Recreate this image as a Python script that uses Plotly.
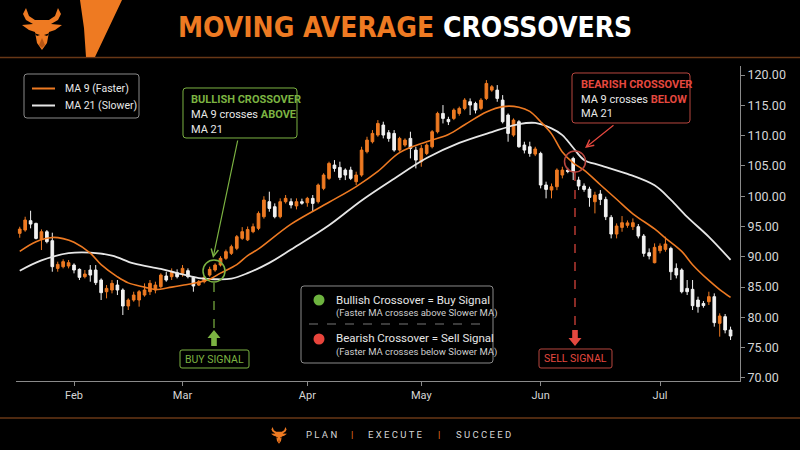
import plotly.graph_objects as go
import pandas as pd

# ---------------- data ----------------
dates = pd.bdate_range("2022-01-18", "2022-07-20")  # trading days shown

open_ = [93.87, 94.42, 95.96, 95.52, 92.88, 94.14, 92.66, 88.09, 88.37, 88.48,
         88.64, 87.93, 86.72, 87.82, 87.82, 86.17, 84.24, 84.52, 85.34, 84.52,
         81.88, 82.87, 82.87, 83.69, 84.24, 84.52, 85.07, 86.83, 86.72, 87.38,
         87.27, 87.71, 86.61, 85.34, 85.89, 86.99, 87.82, 88.65, 89.75, 90.57,
         91.40, 93.05, 92.80, 94.15, 94.70, 96.62, 99.10, 98.27, 96.62, 99.10,
         99.10, 98.40, 99.10, 98.93, 99.65, 99.10, 101.30, 102.95, 105.15, 104.76,
         104.32, 104.32, 102.40, 103.50, 107.35, 109.00, 110.10, 111.75, 110.48, 110.37,
         107.62, 108.45, 109.55, 107.62, 105.70, 107.07, 108.17, 110.65, 113.67, 112.68,
         112.85, 113.67, 114.50, 115.60, 115.32, 114.50, 116.15, 117.52, 117.52, 115.87,
         113.40, 110.10, 112.30, 108.45, 108.17, 106.96, 107.07, 101.85, 101.02, 101.57,
         103.50, 104.30, 106.24, 102.67, 101.68, 101.18, 99.09, 100.36, 99.48, 96.51,
         93.76, 94.86, 95.20, 94.97, 94.97, 93.43, 90.68, 89.03, 91.01, 91.23,
         91.39, 88.09, 87.82, 84.79, 84.63, 82.87, 82.30, 82.59, 83.42, 79.02,
         80.12, 77.92]
high = [94.97, 96.62, 97.61, 95.63, 94.53, 94.42, 93.98, 89.20, 89.58, 89.47,
        88.92, 88.09, 87.82, 88.64, 88.64, 86.44, 85.34, 86.17, 86.17, 84.79,
        83.14, 84.24, 84.52, 85.62, 86.17, 85.89, 87.27, 87.54, 88.09, 87.93,
        88.64, 88.09, 86.83, 86.17, 86.83, 88.37, 88.92, 90.10, 91.20, 92.00,
        93.60, 94.90, 95.00, 95.50, 97.50, 100.00, 100.75, 98.82, 99.65, 100.20,
        99.65, 99.65, 99.60, 99.90, 100.20, 102.10, 103.80, 105.70, 105.97, 105.70,
        104.60, 104.87, 104.05, 108.17, 109.82, 110.92, 112.57, 112.30, 110.92, 110.92,
        109.82, 109.55, 110.65, 108.17, 108.45, 108.72, 110.92, 113.95, 115.05, 113.12,
        114.50, 114.80, 116.20, 116.15, 115.60, 116.20, 119.17, 118.35, 118.35, 116.70,
        113.67, 112.85, 112.57, 109.00, 109.00, 108.17, 107.35, 102.40, 102.10, 104.60,
        104.87, 104.70, 106.52, 103.22, 102.12, 101.57, 100.74, 101.02, 99.92, 96.89,
        95.52, 96.73, 96.00, 96.34, 95.41, 93.76, 91.39, 92.22, 92.22, 93.32,
        91.67, 88.92, 88.09, 86.17, 86.17, 83.42, 82.70, 84.24, 83.97, 80.67,
        80.56, 78.47]
low = [93.15, 94.14, 94.70, 92.88, 91.12, 92.22, 87.54, 87.54, 88.09, 88.09,
       87.27, 86.17, 86.44, 85.89, 85.34, 82.87, 83.14, 83.97, 83.69, 80.39,
       81.22, 82.59, 81.77, 83.42, 83.69, 83.97, 84.79, 85.89, 86.17, 86.44,
       86.72, 86.44, 84.24, 85.18, 85.62, 86.72, 87.54, 88.40, 89.50, 90.30,
       91.10, 92.80, 92.60, 93.90, 94.40, 96.30, 97.45, 96.35, 96.35, 98.80,
       98.00, 97.83, 98.60, 98.27, 97.45, 98.80, 101.00, 102.70, 104.05, 102.67,
       102.67, 102.67, 101.85, 103.22, 107.07, 108.72, 109.82, 109.55, 109.00, 107.35,
       107.35, 108.17, 106.25, 104.60, 104.87, 106.80, 107.90, 110.37, 112.02, 111.75,
       112.57, 113.30, 114.20, 113.40, 113.67, 114.20, 115.87, 117.25, 115.60, 112.02,
       109.00, 109.82, 108.00, 107.07, 106.52, 106.63, 101.30, 99.65, 99.65, 101.00,
       102.95, 103.80, 102.67, 101.02, 100.74, 98.27, 97.17, 98.54, 96.07, 93.04,
       93.04, 94.14, 94.80, 94.42, 93.04, 90.02, 89.58, 88.92, 90.57, 90.84,
       86.17, 86.44, 83.97, 83.69, 81.22, 80.78, 81.60, 82.04, 78.47, 76.82,
       77.37, 76.27]
close = [94.58, 96.07, 95.41, 93.04, 94.14, 92.50, 88.37, 88.75, 89.20, 89.03,
         87.82, 86.61, 87.16, 86.99, 85.73, 84.08, 84.79, 85.62, 84.52, 81.88,
         82.87, 83.69, 84.24, 84.52, 85.62, 85.34, 86.99, 86.17, 87.54, 86.72,
         88.09, 86.72, 85.18, 85.89, 86.61, 87.93, 88.64, 89.75, 90.85, 91.67,
         93.32, 94.15, 94.50, 94.97, 97.17, 99.37, 97.99, 96.62, 99.10, 99.65,
         98.55, 99.10, 98.85, 99.65, 98.82, 101.85, 103.50, 105.42, 104.60, 103.11,
         103.50, 102.95, 103.50, 107.62, 109.27, 110.37, 112.02, 110.10, 109.55, 107.62,
         109.55, 109.27, 107.90, 105.97, 107.90, 108.45, 110.65, 113.67, 112.85, 112.30,
         114.22, 114.50, 115.87, 115.05, 114.22, 115.87, 118.62, 118.07, 116.15, 112.30,
         110.37, 112.57, 108.17, 107.62, 107.07, 107.80, 101.85, 101.13, 101.57, 104.32,
         104.32, 104.10, 104.04, 101.68, 101.13, 99.81, 100.19, 99.48, 96.62, 93.76,
         95.08, 95.63, 95.60, 95.63, 93.43, 90.57, 90.13, 91.56, 91.78, 92.11,
         87.54, 86.99, 84.24, 84.24, 81.93, 81.77, 81.95, 83.42, 79.13, 80.23,
         77.92, 76.93]

ma9_dates = ["2022-01-18", "2022-01-21", "2022-01-26", "2022-01-28", "2022-02-01", "2022-02-04",
             "2022-02-08", "2022-02-11", "2022-02-15", "2022-02-18", "2022-02-22", "2022-02-25",
             "2022-03-01", "2022-03-04", "2022-03-08", "2022-03-10", "2022-03-15", "2022-03-17",
             "2022-03-21", "2022-03-29", "2022-04-07", "2022-04-14", "2022-04-20", "2022-04-26",
             "2022-05-03", "2022-05-09", "2022-05-12", "2022-05-18", "2022-05-23", "2022-05-26",
             "2022-05-30", "2022-06-01", "2022-06-03", "2022-06-07", "2022-06-09", "2022-06-13",
             "2022-06-16", "2022-06-21", "2022-06-24", "2022-06-30", "2022-07-04", "2022-07-07",
             "2022-07-11", "2022-07-14", "2022-07-18", "2022-07-20"]
ma9 = [90.9, 92.5, 93.2, 93.0, 92.4, 90.6, 88.7, 86.7, 85.7, 85.0, 84.6, 85.0,
       85.3, 85.8, 86.3, 87.3, 88.7, 90.2, 91.3, 95.4, 99.0, 101.6, 104.1, 107.2,
       109.0, 110.2, 111.8, 113.9, 114.8, 114.7, 114.0, 112.3, 110.3, 107.3, 105.5, 104.3,
       101.9, 99.5, 97.1, 94.6, 93.1, 90.9, 88.7, 86.1, 84.6, 83.3]

ma21_dates = ["2022-01-18", "2022-01-24", "2022-01-31", "2022-02-04", "2022-02-10", "2022-02-16",
              "2022-02-23", "2022-02-28", "2022-03-04", "2022-03-09", "2022-03-14", "2022-03-17",
              "2022-03-23", "2022-03-29", "2022-04-07", "2022-04-15", "2022-04-25", "2022-05-03",
              "2022-05-11", "2022-05-19", "2022-05-26", "2022-05-31", "2022-06-03", "2022-06-07",
              "2022-06-09", "2022-06-13", "2022-06-16", "2022-06-23", "2022-06-30", "2022-07-05",
              "2022-07-08", "2022-07-14", "2022-07-20"]
ma21 = [87.7, 89.4, 90.6, 90.7, 90.2, 88.9, 88.0, 87.3, 86.5, 86.3, 86.4, 87.3,
        89.0, 91.2, 95.2, 99.3, 102.9, 106.3, 108.8, 110.6, 111.9, 112.1, 111.2, 110.1,
        108.0, 106.0, 105.1, 103.7, 101.8, 99.4, 96.6, 93.3, 89.5]

month_ticks = ["2022-02-01", "2022-03-01", "2022-04-01", "2022-05-02", "2022-06-01", "2022-07-01"]
month_labels = ["Feb", "Mar", "Apr", "May", "Jun", "Jul"]
price_ticks = [70, 75, 80, 85, 90, 95, 100, 105, 110, 115, 120]

# ---------------- style ----------------
ORANGE = "#EE7A22"
WHITE = "#F2F2F2"
GREEN = "#7CB342"
RED = "#E5483F"
REDBOX = "#B8463F"
GREY = "#8a8a8a"
FONT = "Roboto, Liberation Sans, sans-serif"

L, R, T, B = 16, 740, 66, 381  # plot area in pixels


def fx(x):
    return (x - L) / (R - L)


def fy(y):
    return (B - y) / (B - T)


def P(x, y):
    return f"{fx(x):.5f},{fy(y):.5f}"


def poly(points):
    return "M " + " L ".join(P(x, y) for x, y in points) + " Z"


def rrect(x0, y0, x1, y1, r):
    return (f"M {P(x0 + r, y0)} L {P(x1 - r, y0)} Q {P(x1, y0)} {P(x1, y0 + r)} "
            f"L {P(x1, y1 - r)} Q {P(x1, y1)} {P(x1 - r, y1)} L {P(x0 + r, y1)} "
            f"Q {P(x0, y1)} {P(x0, y1 - r)} L {P(x0, y0 + r)} Q {P(x0, y0)} {P(x0 + r, y0)} Z")


shapes, annotations = [], []


def add_path(d, fill="rgba(0,0,0,0)", line=None, width=1.0):
    shapes.append(dict(type="path", xref="paper", yref="paper", path=d, fillcolor=fill,
                       line=dict(color=line or "rgba(0,0,0,0)", width=width if line else 0),
                       layer="above"))


def add_line(x0, y0, x1, y1, color, width=1.0, dash=None):
    shapes.append(dict(type="line", xref="paper", yref="paper", x0=fx(x0), y0=fy(y0),
                       x1=fx(x1), y1=fy(y1), line=dict(color=color, width=width, dash=dash),
                       layer="above"))


def add_circle(cx, cy, r, fill="rgba(0,0,0,0)", line=None, width=1.5):
    shapes.append(dict(type="circle", xref="paper", yref="paper",
                       x0=fx(cx - r), x1=fx(cx + r), y0=fy(cy + r), y1=fy(cy - r),
                       fillcolor=fill,
                       line=dict(color=line or "rgba(0,0,0,0)", width=width if line else 0),
                       layer="above"))


def add_text(x, y, s, size, color, xanchor="left", family=FONT):
    annotations.append(dict(x=fx(x), y=fy(y), xref="paper", yref="paper", text=s,
                            showarrow=False, xanchor=xanchor, yanchor="middle",
                            font=dict(size=size, color=color, family=family)))


def add_arrow(hx, hy, tx, ty, color):
    annotations.append(dict(x=fx(hx), y=fy(hy), xref="paper", yref="paper", text="",
                            showarrow=True, ax=tx - hx, ay=ty - hy, arrowcolor=color,
                            arrowwidth=1.2, arrowhead=5, arrowsize=1.2, standoff=0))


BULL = [(4, 0), (1, 6), (4, 12), (11, 16), (0, 17), (7, 22), (13, 24), (15, 35), (20, 42),
        (25, 35), (27, 24), (33, 22), (40, 17), (29, 16), (36, 12), (39, 6), (36, 0),
        (33, 8), (27, 12), (13, 12), (7, 8)]


def add_bull(ox, oy, s):
    add_path(poly([(ox + s * x, oy + s * y) for x, y in BULL]), fill=ORANGE)
    add_path(poly([(ox + s * x, oy + s * y) for x, y in [(12, 25), (18, 27), (15, 28)]]), fill="#000")
    add_path(poly([(ox + s * x, oy + s * y) for x, y in [(28, 25), (22, 27), (25, 28)]]), fill="#000")
    add_path(poly([(ox + s * x, oy + s * y) for x, y in [(20, 30), (23, 37), (20, 40), (17, 37)]]),
             fill="#B85512")


# ---------------- traces ----------------
fig = go.Figure()
fig.add_trace(go.Candlestick(
    x=dates, open=open_, high=high, low=low, close=close,
    increasing=dict(line=dict(color=ORANGE, width=1), fillcolor=ORANGE),
    decreasing=dict(line=dict(color=WHITE, width=1), fillcolor=WHITE),
    whiskerwidth=0, showlegend=False, hoverinfo="skip"))
fig.add_trace(go.Scatter(x=ma21_dates, y=ma21, mode="lines", name="MA 21 (Slower)",
                         line=dict(color="#E6E6E6", width=1.8, shape="spline", smoothing=1.0),
                         showlegend=False, hoverinfo="skip"))
fig.add_trace(go.Scatter(x=ma9_dates, y=ma9, mode="lines", name="MA 9 (Faster)",
                         line=dict(color=ORANGE, width=1.6, shape="spline", smoothing=1.0),
                         showlegend=False, hoverinfo="skip"))

# ---------------- header / footer ----------------
add_bull(22, 8, 1.0)
add_path(poly([(80, 0), (122, 0), (95, 57), (86, 57), (84, 28)]), fill=ORANGE)
add_text(405, 28, "<b>MOVING AVERAGE <span style='color:#FFFFFF'>CROSSOVERS</span></b>", 28,
         ORANGE, xanchor="center", family="DejaVu Sans Condensed, Liberation Sans Narrow, sans-serif")
add_line(0, 57.5, 800, 57.5, "rgba(190,100,40,0.55)", 1.5)
add_line(0, 418, 800, 418, "rgba(190,100,40,0.55)", 1.5)
add_bull(271, 427, 0.4)
add_text(321, 434, "P L A N", 9.5, "#D6D6D6", xanchor="center")
add_text(352, 434, "|", 9.5, ORANGE, xanchor="center")
add_text(395, 434, "E X E C U T E", 9.5, "#D6D6D6", xanchor="center")
add_text(439, 434, "|", 9.5, ORANGE, xanchor="center")
add_text(483.5, 434, "S U C C E E D", 9.5, "#D6D6D6", xanchor="center")

# ---------------- legend box ----------------
add_path(rrect(24, 74, 139, 118, 3), fill="#000000", line=GREY, width=1)
add_line(32, 88.5, 55, 88.5, ORANGE, 2)
add_line(32, 105.5, 55, 105.5, "#E6E6E6", 2)
add_text(63, 88.5, "MA 9 (Faster)", 10.5, "#E8E8E8")
add_text(63, 105.5, "MA 21 (Slower)", 10.5, "#E8E8E8")

# ---------------- bullish callout ----------------
add_path(rrect(183, 88, 297, 138, 3), fill="#000000", line=GREEN, width=1)
add_text(189, 99.5, "<b>BULLISH CROSSOVER</b>", 11, GREEN)
add_text(189, 114.5, f"MA 9 crosses <b><span style='color:{GREEN}'>ABOVE</span></b>", 11, "#E8E8E8")
add_text(189, 129.5, "MA 21", 11, "#E8E8E8")
add_arrow(213, 258, 238, 139, GREEN)
add_circle(214, 271, 11, line=GREEN, width=1.5)
add_line(214, 283, 214, 329, GREEN, 1.2, "dash")
add_path(poly([(214, 330), (220.5, 338), (216.8, 338), (216.8, 346), (211.2, 346), (211.2, 338), (207.5, 338)]), fill=GREEN)
add_path(rrect(180, 350, 249, 368, 2), fill="#000000", line=GREEN, width=1)
add_text(214.5, 359, "BUY SIGNAL", 10.5, GREEN, xanchor="center")

# ---------------- bearish callout ----------------
add_path(rrect(572, 73, 690, 123, 3), fill="#000000", line=REDBOX, width=1)
add_text(578.5, 84.5, "<b>BEARISH CROSSOVER</b>", 11, RED)
add_text(578.5, 99.5, f"MA 9 crosses <b><span style='color:{RED}'>BELOW</span></b>", 11, "#E8E8E8")
add_text(578.5, 113.5, "MA 21", 11, "#E8E8E8")
add_arrow(585, 148, 615, 124, RED)
add_circle(575, 161.5, 10.5, line=REDBOX, width=1.5)
add_line(575, 172, 575, 329, RED, 1.2, "dash")
add_path(poly([(575, 346), (581.5, 338), (577.8, 338), (577.8, 330), (572.2, 330), (572.2, 338), (568.5, 338)]), fill=RED)
add_path(rrect(539, 349, 612, 368, 2), fill="#000000", line=REDBOX, width=1)
add_text(575.5, 358.5, "SELL SIGNAL", 10.5, RED, xanchor="center")

# ---------------- signal key ----------------
add_path(rrect(301, 286, 493, 363, 3), fill="#000000", line=GREY, width=1)
add_circle(319, 300, 5.5, fill="#6DB33F")
add_text(334, 299.5, "Bullish Crossover = Buy Signal", 11.5, "#E6E6E6")
add_text(334, 313, "(Faster MA crosses above Slower MA)", 9.5, "#CFCFCF")
add_line(309, 324, 486, 324, "#777777", 1, "dash")
add_circle(319, 339, 5.5, fill="#E8453C")
add_text(334, 338, "Bearish Crossover = Sell Signal", 11.5, "#E6E6E6")
add_text(334, 351.5, "(Faster MA crosses below Slower MA)", 9.5, "#CFCFCF")

# ---------------- layout ----------------
fig.update_layout(
    width=800, height=450,
    margin=dict(l=L, r=800 - R, t=T, b=450 - B, pad=0),
    paper_bgcolor="#000000", plot_bgcolor="#000000",
    font=dict(family=FONT, color="#D9D9D9"),
    showlegend=False, hovermode=False,
    shapes=shapes, annotations=annotations,
    xaxis=dict(
        type="date",
        range=["2022-01-17 07:26", "2022-07-21 17:46"],
        rangebreaks=[dict(bounds=["sat", "mon"])],
        rangeslider=dict(visible=False),
        tickvals=month_ticks, ticktext=month_labels,
        showgrid=False, zeroline=False,
        showline=True, linecolor=GREY, linewidth=1,
        ticks="outside", ticklen=4, tickcolor=GREY,
        tickfont=dict(size=11, color="#D6D6D6"),
    ),
    yaxis=dict(
        side="right", range=[69.5, 121.5],
        tickvals=price_ticks, tickformat=".2f",
        showgrid=False, zeroline=False,
        showline=True, linecolor=GREY, linewidth=1,
        ticks="outside", ticklen=4, tickcolor=GREY,
        tickfont=dict(size=12.5, color="#D6D6D6"),
    ),
)

fig.write_html(
    "out.html",
    config={"displayModeBar": False},
    post_script="document.body.style.margin='0';document.body.style.background='#000';"
                "document.body.style.overflow='hidden';",
)
